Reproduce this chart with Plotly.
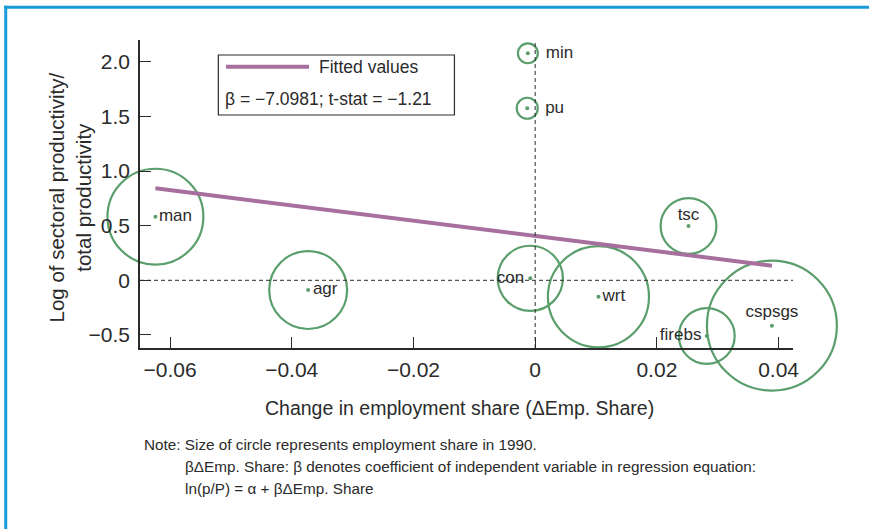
import plotly.graph_objects as go

# ---- data ----
sectors = ["man", "agr", "con", "wrt", "tsc", "firebs", "cspsgs", "min", "pu"]
d_emp_share = [-0.0624, -0.0373, -0.0008, 0.0104, 0.0252, 0.0282, 0.0389, -0.0012, -0.0013]
log_rel_prod = [0.582, -0.089, 0.018, -0.150, 0.497, -0.510, -0.415, 2.077, 1.574]
emp_share_1990 = [17.1, 11.3, 7.9, 19.0, 5.8, 5.8, 31.4, 0.74, 0.82]

fit_x = [-0.0624, 0.0389]
fit_y = [0.842, 0.134]

x_ticks = [-0.06, -0.04, -0.02, 0, 0.02, 0.04]
x_ticktext = ["\u22120.06", "\u22120.04", "\u22120.02", "0", "0.02", "0.04"]
y_ticks = [-0.5, 0, 0.5, 1.0, 1.5, 2.0]
y_ticktext = ["\u22120.5", "0", "0.5", "1.0", "1.5", "2.0"]

# ---- styles ----
GREEN = "#5a9e6b"
PURPLE = "#a66f9e"
BLUE = "#1a9bd7"
INK = "#2b2b2b"
FONT = "Liberation Sans, Arial, sans-serif"
label_pos = ["middle right", "middle right", "middle left", "middle right", "top center",
             "middle left", "top center", "middle right", "middle right"]
label_gap = [4, 6, 8, 5, 0.5, 7, 6, 27, 27]   # invisible marker sizes controlling label offset

fig = go.Figure()

# weighted hollow circles
fig.add_trace(go.Scatter(
    x=d_emp_share, y=log_rel_prod, mode="markers",
    marker=dict(symbol="circle-open", size=emp_share_1990, sizemode="area",
                sizeref=0.00372, color=GREEN, opacity=1, line=dict(width=2.2, color=GREEN)),
    hoverinfo="skip", showlegend=False, cliponaxis=False,
))
# centre dots
fig.add_trace(go.Scatter(
    x=d_emp_share, y=log_rel_prod, mode="markers",
    marker=dict(symbol="circle", size=4, color=GREEN, opacity=1),
    showlegend=False, cliponaxis=False,
))
# labels
fig.add_trace(go.Scatter(
    x=d_emp_share, y=log_rel_prod, mode="markers+text",
    text=sectors, textposition=label_pos,
    textfont=dict(family=FONT, size=17, color=INK),
    marker=dict(symbol="circle", size=label_gap, opacity=0),
    hoverinfo="skip", showlegend=False, cliponaxis=False,
))
# fitted line
fig.add_trace(go.Scatter(
    x=fit_x, y=fit_y, mode="lines",
    line=dict(color=PURPLE, width=4), name="Fitted values", showlegend=False,
))

L, R, T, B = 140, 76.3, 40, 181
PW, PH = 869 - L - R, 529 - T - B


def px(xp):
    return (xp - L) / PW


def py(yp):
    return (529 - B - yp) / PH


shapes = [
    # reference lines
    dict(type="line", xref="paper", yref="y", x0=0, x1=1, y0=0, y1=0,
         line=dict(color=INK, width=1, dash="4px,3px")),
    dict(type="line", xref="x", yref="paper", x0=0, x1=0, y0=0, y1=1,
         line=dict(color=INK, width=1, dash="4px,3px")),
    # legend box
    dict(type="rect", xref="paper", yref="paper", x0=px(218.3), x1=px(454.3),
         y0=py(115), y1=py(55), line=dict(color=INK, width=1.2), fillcolor="white", layer="above"),
    dict(type="line", xref="paper", yref="paper", x0=px(226), x1=px(309),
         y0=py(66.7), y1=py(66.7), line=dict(color=PURPLE, width=4), layer="above"),
    # outer frame
    dict(type="line", xref="paper", yref="paper", x0=px(4.3), x1=px(869), y0=py(7.3), y1=py(7.3),
         line=dict(color=BLUE, width=3)),
    dict(type="line", xref="paper", yref="paper", x0=px(5.8), x1=px(5.8), y0=py(5.8), y1=py(529),
         line=dict(color=BLUE, width=3)),
]

annotations = [
    dict(text="Fitted values", xref="paper", yref="paper", x=px(316.7), y=py(66.5),
         xanchor="left", yanchor="middle", showarrow=False,
         font=dict(family=FONT, size=17.5, color=INK)),
    dict(text="\u03b2 = \u22127.0981; t-stat = \u22121.21", xref="paper", yref="paper",
         x=px(223.3), y=py(99.3), xanchor="left", yanchor="middle", showarrow=False,
         font=dict(family=FONT, size=17.5, color=INK)),
    dict(text="Change in employment share (\u0394Emp. Share)", xref="paper", yref="paper",
         x=px(459), y=py(408), xanchor="center", yanchor="middle", showarrow=False,
         font=dict(family=FONT, size=19.5, color=INK)),
    dict(text="Log of sectoral productivity/<br>total productivity", xref="paper", yref="paper",
         x=px(70.5), y=py(197), xanchor="center", yanchor="middle", showarrow=False,
         textangle=-90, font=dict(family=FONT, size=20.5, color=INK)),
    dict(text="Note: Size of circle represents employment share in 1990.", xref="paper", yref="paper",
         x=px(141.7), y=py(444), xanchor="left", yanchor="middle", showarrow=False,
         font=dict(family=FONT, size=15.3, color=INK)),
    dict(text="\u03b2\u0394Emp. Share: \u03b2 denotes coefficient of independent variable in regression equation:",
         xref="paper", yref="paper", x=px(182.7), y=py(466.5), xanchor="left", yanchor="middle",
         showarrow=False, font=dict(family=FONT, size=15.3, color=INK)),
    dict(text="ln(p/P) = \u03b1 + \u03b2\u0394Emp. Share", xref="paper", yref="paper",
         x=px(182.7), y=py(488), xanchor="left", yanchor="middle", showarrow=False,
         font=dict(family=FONT, size=15.3, color=INK)),
]

x_lo = -0.06 - 30 / 6083
x_hi = 0.04 + 14.4 / 6083
y_lo = (280.3 - 348) / 109.3
y_hi = (280.3 - 40) / 109.3

fig.update_layout(
    width=869, height=529, autosize=False,
    margin=dict(l=L, r=R, t=T, b=B, pad=0),
    paper_bgcolor="white", plot_bgcolor="white",
    font=dict(family=FONT, color=INK),
    shapes=shapes, annotations=annotations,
    xaxis=dict(range=[x_lo, x_hi], tickvals=x_ticks, ticktext=x_ticktext,
               ticks="inside", ticklen=11, tickwidth=1.3, tickcolor=INK,
               showline=True, linecolor=INK, linewidth=1.5, showgrid=False, zeroline=False,
               tickfont=dict(family=FONT, size=21, color=INK), ticklabelstandoff=2),
    yaxis=dict(range=[y_lo, y_hi], tickvals=y_ticks, ticktext=y_ticktext,
               ticks="inside", ticklen=11, tickwidth=1.3, tickcolor=INK,
               showline=True, linecolor=INK, linewidth=1.5, showgrid=False, zeroline=False,
               tickfont=dict(family=FONT, size=21, color=INK), ticklabelstandoff=4),
)

fig.write_html("out.html", config={"displayModeBar": False},
               post_script="document.body.style.margin='0';document.body.style.overflow='hidden';")
